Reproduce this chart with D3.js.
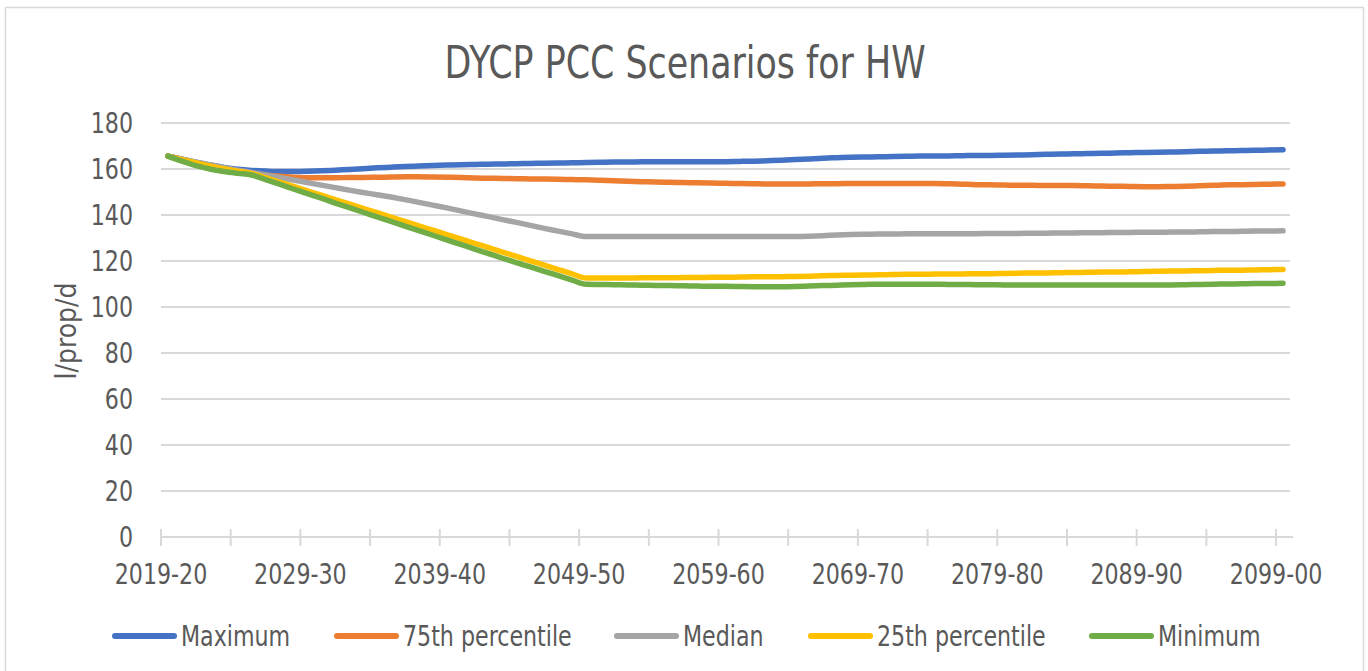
<!DOCTYPE html>
<html lang="en">
<head>
  <meta charset="UTF-8" />
  <title>DYCP PCC Scenarios for HW</title>
  <style>
    body { margin: 0; background: #fff; }
    svg { display: block; }
    text {
      font-family: "Liberation Sans Narrow", "Arial Narrow", "DejaVu Sans Condensed", sans-serif;
      fill: #595959;
    }
    .grid line { stroke: #d9d9d9; stroke-width: 2px; }
    .axis line { stroke: #d9d9d9; stroke-width: 2px; }
    .series { fill: none; stroke-width: 5.5px; stroke-linecap: round; stroke-linejoin: round; }
  </style>
</head>
<body>
  <svg width="1368" height="671"></svg>
  <script src="https://d3js.org/d3.v7.min.js"></script>
  <script>
    // 2019-20 ... 2099-00, one category per year
    const categories = d3.range(2019, 2100).map(y => y + "-" + String((y + 1) % 100).padStart(2, "0"));

    const seriesNames = ["Maximum", "75th percentile", "Median", "25th percentile", "Minimum"];
    const seriesColors = ["#4472c4", "#ed7d31", "#a5a5a5", "#ffc000", "#70ad47"];

    const maximum = [
      165.6, 164.3, 163.0, 161.8, 160.7, 159.9, 159.4, 159.1, 158.9, 158.9,
      159.0, 159.2, 159.5, 159.8, 160.1, 160.5, 160.8, 161.1, 161.3, 161.5,
      161.7, 161.9, 162.0, 162.1, 162.2, 162.3, 162.4, 162.5, 162.6, 162.7,
      162.8, 162.9, 163.0, 163.0, 163.1, 163.1, 163.1, 163.2, 163.2, 163.2,
      163.2, 163.3, 163.4, 163.6, 163.8, 164.1, 164.4, 164.7, 164.9, 165.1,
      165.2, 165.3, 165.4, 165.5, 165.6, 165.6, 165.7, 165.8, 165.9, 165.9,
      166.0, 166.1, 166.2, 166.4, 166.5, 166.6, 166.7, 166.8, 167.0, 167.1,
      167.2, 167.3, 167.4, 167.5, 167.7, 167.8, 167.9, 168.0, 168.1, 168.3,
      168.4
    ];
    const p75 = [
      165.6, 164.2, 162.8, 161.5, 160.3, 159.2, 158.2, 157.4, 156.8, 156.4,
      156.2, 156.2, 156.2, 156.3, 156.3, 156.4, 156.5, 156.6, 156.6, 156.5,
      156.4, 156.3, 156.1, 156.0, 155.9, 155.8, 155.7, 155.6, 155.5, 155.4,
      155.3, 155.1, 154.9, 154.7, 154.5, 154.3, 154.2, 154.1, 154.0, 153.9,
      153.8, 153.7, 153.6, 153.5, 153.5, 153.5, 153.5, 153.6, 153.6, 153.7,
      153.7, 153.7, 153.7, 153.7, 153.7, 153.7, 153.6, 153.4, 153.2, 153.1,
      153.0, 152.9, 152.9, 152.8, 152.8, 152.8, 152.7, 152.6, 152.5, 152.4,
      152.3, 152.3, 152.4, 152.5, 152.7, 152.9, 153.1, 153.2, 153.3, 153.4,
      153.5
    ];
    const median = [
      165.6, 164.3, 163.0, 161.8, 160.6, 159.5, 158.5, 157.4, 156.3, 155.2,
      154.1, 153.0, 151.9, 150.8, 149.8, 148.8, 147.8, 146.7, 145.5, 144.3,
      143.1, 141.8, 140.5, 139.3, 138.0, 136.8, 135.5, 134.2, 133.0, 131.8,
      130.6, 130.6, 130.6, 130.6, 130.6, 130.6, 130.6, 130.6, 130.6, 130.6,
      130.6, 130.6, 130.6, 130.6, 130.7, 130.7, 130.8, 131.0, 131.3, 131.5,
      131.6, 131.7, 131.7, 131.8, 131.8, 131.8, 131.9, 131.9, 131.9, 132.0,
      132.0, 132.0, 132.1, 132.1, 132.2, 132.2, 132.3, 132.3, 132.4, 132.4,
      132.5, 132.5, 132.6, 132.6, 132.7, 132.8, 132.8, 132.9, 133.0, 133.0,
      133.1
    ];
    const p25 = [
      165.6, 164.1, 162.7, 161.3, 160.1, 159.0, 158.1, 156.2, 154.3, 152.4,
      150.5, 148.6, 146.7, 144.8, 142.9, 141.0, 139.1, 137.2, 135.3, 133.4,
      131.5, 129.6, 127.7, 125.8, 123.9, 122.0, 120.1, 118.2, 116.3, 114.4,
      112.6, 112.6, 112.6, 112.6, 112.7, 112.7, 112.7, 112.8, 112.8, 112.9,
      112.9, 113.0, 113.1, 113.1, 113.2, 113.3, 113.4, 113.6, 113.7, 113.8,
      113.9, 114.0, 114.1, 114.2, 114.2, 114.3, 114.4, 114.4, 114.5, 114.5,
      114.6, 114.7, 114.8, 114.8, 114.9, 115.0, 115.1, 115.2, 115.2, 115.3,
      115.4, 115.5, 115.6, 115.7, 115.8, 115.9, 116.0, 116.0, 116.1, 116.2,
      116.3
    ];
    const minimum = [
      165.6, 163.4, 161.5, 160.0, 158.9, 158.1, 157.4, 155.4, 153.4, 151.3,
      149.3, 147.3, 145.2, 143.2, 141.2, 139.2, 137.2, 135.2, 133.2, 131.2,
      129.2, 127.2, 125.2, 123.2, 121.2, 119.3, 117.4, 115.5, 113.6, 111.7,
      109.9, 109.8, 109.7, 109.6, 109.5, 109.4, 109.3, 109.2, 109.1, 109.0,
      109.0, 108.9, 108.8, 108.8, 108.8, 108.9, 109.1, 109.3, 109.5, 109.7,
      109.8, 109.9, 109.9, 109.9, 109.9, 109.9, 109.8, 109.8, 109.7, 109.7,
      109.6, 109.6, 109.6, 109.6, 109.6, 109.6, 109.6, 109.6, 109.6, 109.6,
      109.6, 109.6, 109.6, 109.7, 109.8, 109.9, 110.0, 110.1, 110.2, 110.2,
      110.3
    ];
    const seriesValues = [maximum, p75, median, p25, minimum];

    const yTicks = [0, 20, 40, 60, 80, 100, 120, 140, 160, 180];

    const svg = d3.select("svg");
    const H = 671;
    const plot = { left: 161, right: 1290, top: 123, bottom: 537 };
    const squeeze = 0.88; // fallback font is wider than the original narrow face

    // place a text at (px,py), narrowed horizontally
    function place(sel, px, py) {
      return sel.attr("transform", (d, i) => {
        const tx = typeof px === "function" ? px(d, i) : px;
        const ty = typeof py === "function" ? py(d, i) : py;
        return `translate(${tx},${ty}) scale(${squeeze},1)`;
      });
    }

    // chart border
    svg.append("rect")
      .attr("x", 5.5).attr("y", 7.5)
      .attr("width", 1358).attr("height", H + 10)
      .attr("fill", "#fff")
      .attr("stroke", "#d9d9d9").attr("stroke-width", 1.5);

    // categories sit in the middle of their slot, ticks on slot boundaries
    const x = d3.scaleLinear().domain([0, categories.length]).range([plot.left, plot.right]);
    const y = d3.scaleLinear().domain([0, 180]).range([plot.bottom, plot.top]);

    svg.append("text")
      .attr("text-anchor", "middle")
      .style("font-size", "44px")
      .text("DYCP PCC Scenarios for HW")
      .call(place, 685, 78);

    svg.append("g").attr("class", "grid")
      .selectAll("line")
      .data(yTicks.filter(d => d > 0))
      .join("line")
      .attr("x1", plot.left).attr("x2", plot.right)
      .attr("y1", d => y(d)).attr("y2", d => y(d));

    // y labels
    svg.append("g")
      .selectAll("text")
      .data(yTicks)
      .join("text")
      .attr("text-anchor", "end")
      .attr("dominant-baseline", "central")
      .style("font-size", "28px")
      .text(d => d)
      .call(place, 133, d => y(d));

    // x axis
    const ax = svg.append("g").attr("class", "axis");
    ax.append("line")
      .attr("x1", plot.left).attr("x2", plot.right + 3)
      .attr("y1", plot.bottom).attr("y2", plot.bottom);
    ax.selectAll("line.tick")
      .data(d3.range(0, categories.length, 5))
      .join("line")
      .attr("class", "tick")
      .attr("x1", d => x(d)).attr("x2", d => x(d))
      .attr("y1", plot.bottom - 8).attr("y2", plot.bottom + 9);
    ax.selectAll("text")
      .data(d3.range(0, categories.length, 10))
      .join("text")
      .attr("text-anchor", "middle")
      .attr("dominant-baseline", "central")
      .style("font-size", "28px")
      .text(d => categories[d])
      .call(place, d => x(d), 574);

    svg.append("text")
      .attr("transform", "translate(66,331) rotate(-90)")
      .attr("text-anchor", "middle")
      .attr("dominant-baseline", "central")
      .style("font-size", "28px")
      .text("l/prop/d");

    const line = d3.line()
      .x((d, i) => x(i + 0.5))
      .y(d => y(d))
      .curve(d3.curveMonotoneX);

    svg.append("g")
      .selectAll("path")
      .data(seriesValues)
      .join("path")
      .attr("class", "series")
      .attr("stroke", (d, i) => seriesColors[i])
      .attr("d", line);

    // legend
    const legendX = [112, 334, 614, 808, 1089];
    const legend = svg.append("g")
      .selectAll("g")
      .data(seriesNames)
      .join("g")
      .attr("transform", (d, i) => `translate(${legendX[i]},636)`);
    legend.append("line")
      .attr("x1", 3).attr("x2", 62)
      .attr("stroke", (d, i) => seriesColors[i])
      .attr("stroke-width", 6)
      .attr("stroke-linecap", "round");
    legend.append("text")
      .attr("dominant-baseline", "central")
      .style("font-size", "28px")
      .text(d => d)
      .call(place, 69, 0);
  </script>
</body>
</html>
